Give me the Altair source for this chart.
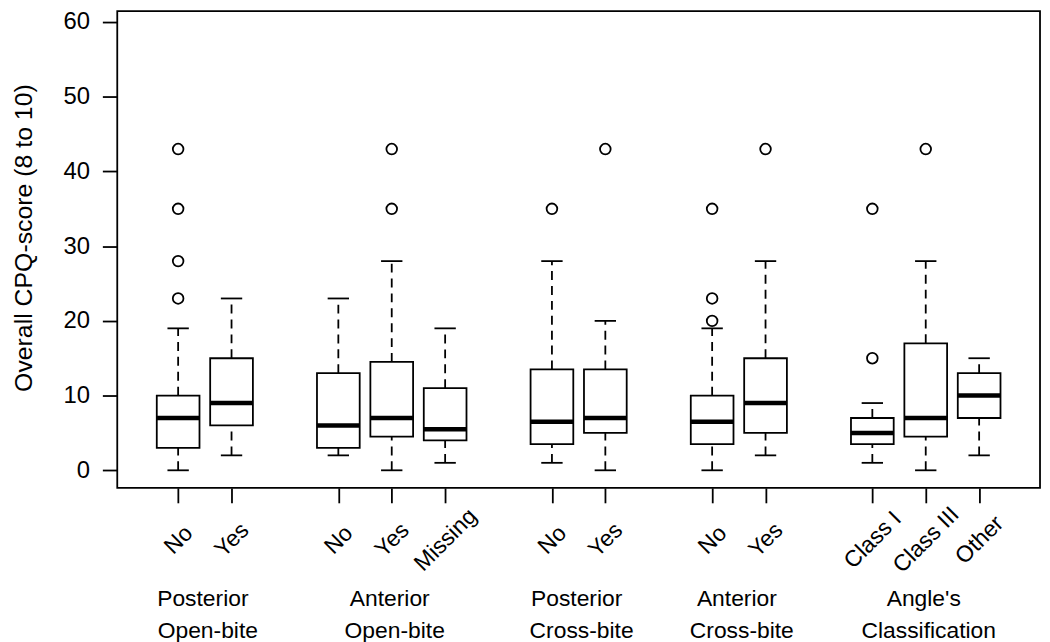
import altair as alt
import pandas as pd

# ---- data ----
positions = [1, 2, 4, 5, 6, 8, 9, 11, 12, 14, 15, 16]
labels = ["No", "Yes", "No", "Yes", "Missing", "No", "Yes", "No", "Yes",
          "Class I", "Class III", "Other"]
lower = [0, 2, 2, 0, 1, 1, 0, 0, 2, 1, 0, 2]
q1 = [3, 6, 3, 4.5, 4, 3.5, 5, 3.5, 5, 3.5, 4.5, 7]
median = [7, 9, 6, 7, 5.5, 6.5, 7, 6.5, 9, 5, 7, 10]
q3 = [10, 15, 13, 14.5, 11, 13.5, 13.5, 10, 15, 7, 17, 13]
upper = [19, 23, 23, 28, 19, 28, 20, 19, 28, 9, 28, 15]

out_pos = [1, 1, 1, 1, 5, 5, 8, 9, 11, 11, 11, 12, 14, 14, 15]
out_val = [43, 35, 28, 23, 43, 35, 35, 43, 35, 23, 20, 43, 35, 15, 43]

group_pos = [1.5, 5, 8.5, 11.5, 15]
group_line1 = ["Posterior", "Anterior", "Posterior", "Anterior", "Angle's"]
group_line2 = ["Open-bite", "Open-bite", "Cross-bite", "Cross-bite", "Classification"]

y_ticks = [0, 10, 20, 30, 40, 50, 60]
y_title = "Overall CPQ-score (8 to 10)"

# ---- tables ----
boxes = pd.DataFrame({"pos": positions, "label": labels, "lower": lower, "q1": q1,
                      "median": median, "q3": q3, "upper": upper})
outs = pd.DataFrame({"pos": out_pos, "val": out_val})
groups = pd.DataFrame({"pos": group_pos, "l1": group_line1, "l2": group_line2})

FONT = "Liberation Sans"
LW = 1.8
xscale = alt.Scale(domain=[-0.14, 17.14], nice=False, zero=False)
yscale = alt.Scale(domain=[-2.355, 61.46], nice=False, zero=False)

label_expr = ("[" + ",".join("'" + l + "'" for l in labels) + "][indexof(["
              + ",".join(str(p) for p in positions) + "], datum.value)]")

xaxis = alt.Axis(values=positions, labelExpr=label_expr, title=None, grid=False,
                 domain=False, ticks=True, tickSize=15, tickWidth=LW, tickColor="black",
                 labelAngle=315, labelAlign="center", labelBaseline="middle",
                 labelPadding=37, labelFont=FONT, labelFontSize=23, labelColor="black",
                 labelOverlap=False, labelFlush=False)
yaxis = alt.Axis(values=y_ticks, title=y_title, grid=False, domain=False,
                 tickSize=15, tickWidth=LW, tickColor="black",
                 labelPadding=13, labelFont=FONT, labelFontSize=24, labelColor="black",
                 labelAngle=0, labelAlign="right", labelBaseline="middle",
                 labelFlush=False, labelOverlap=False,
                 titleFont=FONT, titleFontSize=25, titleFontWeight="normal",
                 titleColor="black", titleAngle=270, titleX=-86, titleY=228,
                 titleAlign="center", titleBaseline="alphabetic")

base = alt.Chart(boxes).transform_calculate(
    bl="datum.pos - 0.4", br="datum.pos + 0.4",
    cl="datum.pos - 0.2", cr="datum.pos + 0.2")

dash = [9, 6]
whisk_up = base.mark_rule(color="black", strokeWidth=LW, strokeDash=dash).encode(
    x=alt.X("pos:Q", scale=xscale, axis=xaxis),
    y=alt.Y("q3:Q", scale=yscale, axis=yaxis), y2="upper:Q")
whisk_lo = base.mark_rule(color="black", strokeWidth=LW, strokeDash=dash).encode(
    x=alt.X("pos:Q", scale=xscale, axis=xaxis),
    y=alt.Y("lower:Q", scale=yscale, axis=yaxis), y2="q1:Q")
cap_up = base.mark_rule(color="black", strokeWidth=LW).encode(
    x=alt.X("cl:Q", scale=xscale, axis=xaxis), x2="cr:Q",
    y=alt.Y("upper:Q", scale=yscale, axis=yaxis))
cap_lo = base.mark_rule(color="black", strokeWidth=LW).encode(
    x=alt.X("cl:Q", scale=xscale, axis=xaxis), x2="cr:Q",
    y=alt.Y("lower:Q", scale=yscale, axis=yaxis))
box = base.mark_bar(fill="white", stroke="black", strokeWidth=LW).encode(
    x=alt.X("bl:Q", scale=xscale, axis=xaxis), x2="br:Q",
    y=alt.Y("q1:Q", scale=yscale, axis=yaxis), y2="q3:Q")
med = base.mark_rule(color="black", strokeWidth=4.5).encode(
    x=alt.X("bl:Q", scale=xscale, axis=xaxis), x2="br:Q",
    y=alt.Y("median:Q", scale=yscale, axis=yaxis))
pts = alt.Chart(outs).mark_point(shape="circle", filled=False, size=115, color="black",
                                 strokeWidth=LW, opacity=1).encode(
    x=alt.X("pos:Q", scale=xscale, axis=xaxis),
    y=alt.Y("val:Q", scale=yscale, axis=yaxis))
g1 = alt.Chart(groups).mark_text(font=FONT, fontSize=23, color="black", align="center",
                                 baseline="alphabetic", dx=-2).encode(
    x=alt.X("pos:Q", scale=xscale, axis=xaxis), y=alt.value(599), text="l1:N")
g2 = alt.Chart(groups).mark_text(font=FONT, fontSize=23, color="black", align="center",
                                 baseline="alphabetic", dx=3).encode(
    x=alt.X("pos:Q", scale=xscale, axis=xaxis), y=alt.value(631), text="l2:N")

chart = alt.layer(whisk_up, whisk_lo, cap_up, cap_lo, box, med, pts, g1, g2).properties(
    width=929, height=480,
    autosize=alt.AutoSizeParams(type="none"),
    padding={"left": 110, "top": 1, "right": 2, "bottom": 153},
    background="white",
).configure_view(stroke="black", strokeWidth=LW)

chart.save("out.html", embed_options={"renderer": "svg", "actions": False})
